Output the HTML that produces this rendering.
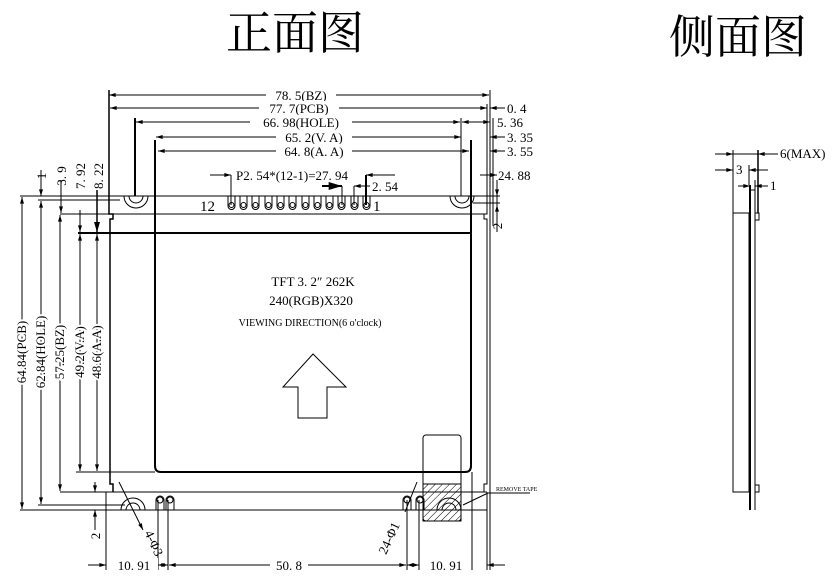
<!DOCTYPE html>
<html><head><meta charset="utf-8"><style>
html,body{margin:0;padding:0;background:#fff;}
svg{display:block;}
text{font-family:"Liberation Serif","Noto Serif CJK SC",serif;fill:#000;}
.t{font-size:13px;}
</style></head><body>
<svg width="834" height="579" viewBox="0 0 834 579" xmlns="http://www.w3.org/2000/svg">
<defs>
<marker id="a" viewBox="0 0 10 6" refX="10" refY="3" markerWidth="8" markerHeight="4" orient="auto-start-reverse"><path d="M0,0 L10,3 L0,6z" fill="#000"/></marker>
<pattern id="h" width="5" height="5" patternUnits="userSpaceOnUse" patternTransform="rotate(45)"><line x1="0" y1="0" x2="0" y2="5" stroke="#000" stroke-width="1"/></pattern>
</defs>
<text x="295" y="49" font-size="46" text-anchor="middle" font-family="Noto Sans CJK SC,sans-serif">正面图</text>
<text x="738" y="53" font-size="46" text-anchor="middle" font-family="Noto Sans CJK SC,sans-serif">侧面图</text>

<g stroke="#000" fill="none" stroke-width="1">
<line x1="20" y1="196" x2="500" y2="196"/>
<line x1="60" y1="214" x2="487" y2="214"/>
<line x1="78" y1="233" x2="471" y2="233" stroke-width="2"/>
<line x1="60" y1="492" x2="487" y2="492"/>
<line x1="20" y1="510" x2="487" y2="510"/>
<line x1="38" y1="505" x2="125" y2="505"/>
<line x1="38" y1="200" x2="120" y2="200"/>
<line x1="76" y1="472" x2="155" y2="472"/>
<path d="M109,90 V214 H113 V219 H110 V484 H113 V492" stroke-width="1.5"/>
<path d="M487,104 V214 H484 V219 H487 V484 H484 V492"/>
<line x1="490" y1="90" x2="490" y2="570"/>
<line x1="487" y1="492" x2="487" y2="570"/>
<line x1="106" y1="492" x2="106" y2="570"/>
<path d="M155,140 V466 Q155,472 161,472 H465 Q471,472 471,466 V140" stroke-width="2"/>
<line x1="135" y1="118" x2="135" y2="196" stroke-width="2"/>
<line x1="461" y1="118" x2="461" y2="196"/>
<line x1="493" y1="118" x2="493" y2="226"/>
<line x1="497" y1="180" x2="497" y2="232"/>
<path d="M124,196 A12,12 0 0 0 148,196"/><path d="M129,196 A7,7 0 0 0 143,196"/>
<path d="M450,196 A12,12 0 0 0 474,196"/><path d="M455,196 A7,7 0 0 0 469,196"/>
<line x1="473" y1="203" x2="500" y2="203"/>
<path d="M121,510 A12,12 0 0 1 145,510"/><path d="M126,510 A7,7 0 0 1 140,510"/>
<rect x="423" y="484" width="38" height="37" fill="url(#h)" stroke="#000"/>
<rect x="423" y="435" width="38" height="86" rx="3"/>
<path d="M437,510 A12,12 0 0 1 461,510"/><path d="M442,510 A7,7 0 0 1 456,510"/>
<circle cx="160" cy="500" r="3"/><circle cx="170" cy="500" r="3"/>
<path d="M156,510 V500 A4,4 0 0 1 164,500 V510 M166,510 V500 A4,4 0 0 1 174,500 V510"/>
<circle cx="407" cy="500" r="3"/><circle cx="420" cy="500" r="3"/>
<path d="M403,510 V500 A4,4 0 0 1 411,500 V510 M416,510 V500 A4,4 0 0 1 424,500 V510"/>
<line x1="158" y1="500" x2="158" y2="570"/><line x1="168" y1="500" x2="168" y2="570"/>
<line x1="407" y1="500" x2="407" y2="570"/><line x1="419" y1="500" x2="419" y2="570"/>
<line x1="472" y1="472" x2="472" y2="570"/>
<line x1="119" y1="482" x2="143" y2="530" marker-end="url(#a)"/>
<line x1="417" y1="482" x2="405" y2="512" />
<line x1="463" y1="505" x2="488" y2="493"/><line x1="488" y1="493" x2="530" y2="493"/>
<path d="M228,196V206a3.5,3.5 0 0 0 7,0V196M240,196V206a3.5,3.5 0 0 0 7,0V196M252,196V206a3.5,3.5 0 0 0 7,0V196M265,196V206a3.5,3.5 0 0 0 7,0V196M277,196V206a3.5,3.5 0 0 0 7,0V196M289,196V206a3.5,3.5 0 0 0 7,0V196M302,196V206a3.5,3.5 0 0 0 7,0V196M314,196V206a3.5,3.5 0 0 0 7,0V196M326,196V206a3.5,3.5 0 0 0 7,0V196M338,196V206a3.5,3.5 0 0 0 7,0V196M351,196V206a3.5,3.5 0 0 0 7,0V196M363,196V206a3.5,3.5 0 0 0 7,0V196"/>
<circle cx="231.5" cy="205" r="2.5"/><circle cx="243.5" cy="205" r="2.5"/><circle cx="255.5" cy="205" r="2.5"/><circle cx="268.5" cy="205" r="2.5"/><circle cx="280.5" cy="205" r="2.5"/><circle cx="292.5" cy="205" r="2.5"/><circle cx="305.5" cy="205" r="2.5"/><circle cx="317.5" cy="205" r="2.5"/><circle cx="329.5" cy="205" r="2.5"/><circle cx="341.5" cy="205" r="2.5"/><circle cx="354.5" cy="205" r="2.5"/><circle cx="366.5" cy="205" r="2.5"/>
<line x1="231" y1="175" x2="231" y2="205"/><line x1="342" y1="186" x2="342" y2="205"/><line x1="354" y1="186" x2="354" y2="205"/><line x1="366" y1="175" x2="366" y2="205" stroke-width="2"/>
<line x1="210" y1="175" x2="231" y2="175" marker-end="url(#a)"/>
<line x1="395" y1="175" x2="366" y2="175" marker-end="url(#a)"/>
<line x1="322" y1="186" x2="342" y2="186" marker-end="url(#a)" stroke-width="2"/>
<line x1="370" y1="186" x2="354" y2="186" marker-end="url(#a)"/>
<line x1="109" y1="95" x2="489" y2="95" marker-start="url(#a)" marker-end="url(#a)"/>
<line x1="110" y1="108" x2="487" y2="108" marker-start="url(#a)" marker-end="url(#a)"/>
<line x1="136" y1="122" x2="460" y2="122" marker-start="url(#a)" marker-end="url(#a)"/>
<line x1="156" y1="137" x2="461" y2="137" marker-start="url(#a)" marker-end="url(#a)"/>
<line x1="158" y1="151" x2="469" y2="151" marker-start="url(#a)" marker-end="url(#a)"/>
<line x1="505" y1="108" x2="490" y2="108" marker-end="url(#a)"/>
<line x1="462" y1="122" x2="490" y2="122" marker-start="url(#a)" marker-end="url(#a)"/>
<line x1="505" y1="137" x2="490" y2="137" marker-end="url(#a)"/>
<line x1="505" y1="151" x2="490" y2="151" marker-end="url(#a)"/>
<line x1="480" y1="175" x2="497" y2="175" marker-end="url(#a)"/>
<line x1="497" y1="180" x2="497" y2="196" marker-end="url(#a)"/>
<line x1="497" y1="225" x2="497" y2="205" marker-end="url(#a)"/>
<line x1="22" y1="197" x2="22" y2="509" marker-start="url(#a)" marker-end="url(#a)"/>
<line x1="41" y1="201" x2="41" y2="504" marker-start="url(#a)" marker-end="url(#a)"/>
<line x1="60" y1="215" x2="60" y2="491" marker-start="url(#a)" marker-end="url(#a)"/>
<line x1="80" y1="234" x2="80" y2="471" marker-start="url(#a)" marker-end="url(#a)"/>
<line x1="97" y1="234" x2="97" y2="471" marker-start="url(#a)" marker-end="url(#a)"/>
<line x1="41" y1="170" x2="41" y2="196" marker-end="url(#a)"/>
<line x1="61" y1="180" x2="61" y2="213" marker-end="url(#a)"/>
<line x1="80" y1="210" x2="80" y2="232" marker-end="url(#a)"/>
<line x1="97" y1="190" x2="97" y2="232" marker-end="url(#a)" stroke-width="1.5"/>
<line x1="95" y1="482" x2="95" y2="492" marker-end="url(#a)"/>
<line x1="95" y1="530" x2="95" y2="510" marker-end="url(#a)"/>
<line x1="88" y1="565" x2="106" y2="565" marker-end="url(#a)"/>
<line x1="158" y1="565" x2="168" y2="565" marker-start="url(#a)" marker-end="url(#a)"/>
<line x1="169" y1="565" x2="406" y2="565" marker-start="url(#a)" marker-end="url(#a)"/>
<line x1="407" y1="565" x2="419" y2="565" marker-start="url(#a)" marker-end="url(#a)"/>
<line x1="505" y1="565" x2="487" y2="565" marker-end="url(#a)"/>
<path d="M313,354 L346,387 L327,387 L327,418 L298,418 L298,387 L283,387 Z"/>
<rect x="733" y="213" width="16" height="279"/>
<line x1="750" y1="185" x2="750" y2="510" stroke-width="2"/>
<line x1="755" y1="180" x2="755" y2="510"/>
<rect x="755" y="213" width="4" height="7"/><rect x="755" y="485" width="4" height="7"/>
<line x1="733" y1="150" x2="733" y2="213"/><line x1="758" y1="150" x2="758" y2="213" stroke-width="1.5"/>
<line x1="749" y1="165" x2="749" y2="185"/>
<line x1="733" y1="154" x2="758" y2="154"/>
<line x1="715" y1="154" x2="733" y2="154" marker-end="url(#a)"/>
<line x1="778" y1="154" x2="758" y2="154" marker-end="url(#a)"/>
<line x1="715" y1="170" x2="733" y2="170" marker-end="url(#a)"/>
<line x1="768" y1="170" x2="749" y2="170" marker-end="url(#a)"/>
<line x1="738" y1="186" x2="750" y2="186" marker-end="url(#a)"/>
<line x1="768" y1="186" x2="755" y2="186" marker-end="url(#a)"/>
<line x1="750" y1="190" x2="755" y2="190"/>
</g>
<g class="t">
<rect x="266" y="88" width="70" height="14" fill="#fff"/><text x="301" y="100" text-anchor="middle">78. 5(BZ)</text>
<rect x="259" y="101" width="80" height="14" fill="#fff"/><text x="299" y="113" text-anchor="middle">77. 7(PCB)</text>
<rect x="250" y="115" width="102" height="14" fill="#fff"/><text x="301" y="127" text-anchor="middle">66. 98(HOLE)</text>
<rect x="276" y="130" width="76" height="14" fill="#fff"/><text x="314" y="142" text-anchor="middle">65. 2(V. A)</text>
<rect x="276" y="144" width="76" height="14" fill="#fff"/><text x="314" y="156" text-anchor="middle">64. 8(A. A)</text>
<text x="507" y="113">0. 4</text><text x="497" y="127">5. 36</text><text x="507" y="142">3. 35</text><text x="507" y="156">3. 55</text><text x="498" y="180">24. 88</text>
<text x="236" y="180">P2. 54*(12-1)=27. 94</text>
<text x="372" y="191">2. 54</text>
<text x="200" y="211" font-size="15">12</text><text x="373" y="211" font-size="15">1</text>
<g font-size="13">
<text transform="translate(26,352) rotate(-90)" text-anchor="middle" style="paint-order:stroke" stroke="#fff" stroke-width="4">64.84(PCB)</text>
<text transform="translate(45,352) rotate(-90)" text-anchor="middle" style="paint-order:stroke" stroke="#fff" stroke-width="4">62.84(HOLE)</text>
<text transform="translate(64,352) rotate(-90)" text-anchor="middle" style="paint-order:stroke" stroke="#fff" stroke-width="4">57.25(BZ)</text>
<text transform="translate(84,352) rotate(-90)" text-anchor="middle" style="paint-order:stroke" stroke="#fff" stroke-width="4">49.2(V.A)</text>
<text transform="translate(101,352) rotate(-90)" text-anchor="middle" style="paint-order:stroke" stroke="#fff" stroke-width="4">48.6(A.A)</text>
<text transform="translate(46,176) rotate(-90)" text-anchor="middle">1</text>
<text transform="translate(66,176) rotate(-90)" text-anchor="middle">3. 9</text>
<text transform="translate(85,176) rotate(-90)" text-anchor="middle">7. 92</text>
<text transform="translate(103,176) rotate(-90)" text-anchor="middle">8. 22</text>
<text transform="translate(100,536) rotate(-90)" text-anchor="middle">2</text>
<text transform="translate(502,226) rotate(-90)" text-anchor="middle">2</text>
<text transform="translate(150,545) rotate(65)" text-anchor="middle">4-Φ3</text>
<text transform="translate(393,540) rotate(-65)" text-anchor="middle">24-Φ1</text>
</g>
<rect x="110" y="558" width="48" height="14" fill="#fff"/><text x="134" y="570" text-anchor="middle">10. 91</text>
<rect x="270" y="558" width="38" height="14" fill="#fff"/><text x="289" y="570" text-anchor="middle">50. 8</text>
<rect x="422" y="558" width="48" height="14" fill="#fff"/><text x="446" y="570" text-anchor="middle">10. 91</text>
<text x="496" y="491" font-size="6">REMOVE TAPE</text>
<text x="313" y="286" text-anchor="middle">TFT 3. 2″  262K</text>
<text x="311" y="305" text-anchor="middle">240(RGB)X320</text>
<text x="310" y="326" text-anchor="middle" font-size="10">VIEWING DIRECTION(6 o'clock)</text>
<text x="780" y="158">6(MAX)</text>
<text x="736" y="174">3</text>
<text x="770" y="190">1</text>
</g>
</svg>
</body></html>
